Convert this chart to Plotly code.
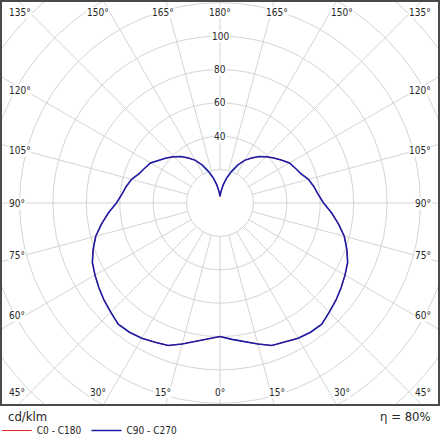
"""Polar luminous-intensity diagram (cd/klm) redrawn on cartesian axes so the
grid can be clipped to the square frame, like the photometric datasheets do."""
import numpy as np
import plotly.graph_objects as go

# gamma angle from nadir, 5 deg steps; one half-plane, the other mirrors it
gamma = list(range(0, 181, 5))
c90_c270 = [80, 82, 84.2, 87.4, 90.8, 92, 93.6, 94.5, 94.8, 92.5, 90.6, 88.5,
            86.4, 84.3, 80.8, 77, 72, 67, 62, 59, 57, 54.8, 51.5, 49.6, 48,
            44.8, 42, 39.2, 36.3, 32.9, 29.5, 25, 20, 15.5, 11, 7, 4]
# C0-C180 coincides with C90-C270 here (it sits hidden under the blue line)
c0_c180 = [80, 82, 84.2, 87.4, 90.8, 92, 93.6, 94.5, 94.8, 92.5, 90.6, 88.5,
           86.4, 84.3, 80.8, 77, 72, 67, 62, 59, 57, 54.8, 51.5, 49.6, 48,
           44.8, 42, 39.2, 36.3, 32.9, 29.5, 25, 20, 15.5, 11, 7, 4]

ring_radii = [20, 40, 60, 80, 100, 120, 140, 160, 180]
ring_labels = [40, 60, 80, 100]
angle_ticks = list(range(0, 181, 15))
efficiency = "η = 80%"
unit = "cd/klm"

FONT = "DejaVu Sans Condensed, DejaVu Sans, sans-serif"
GRID = "#d4d4d4"
TXT = "#262626"
XR, YR = 130.5, 120.4


def to_xy(vals):
    """both half-planes: left side uses negative gamma."""
    g = np.array([-a for a in gamma[::-1]] + gamma[1:], dtype=float)
    r = np.array(vals[::-1] + vals[1:], dtype=float)
    rad = np.radians(g)
    return r * np.sin(rad), -r * np.cos(rad)


fig = go.Figure()
for name, vals, col, w in [("C0 - C180", c0_c180, "#e02424", 1.0),
                           ("C90 - C270", c90_c270, "#1c1ca6", 1.6)]:
    x, y = to_xy(vals)
    fig.add_trace(go.Scatter(x=x, y=y, mode="lines", name=name, hoverinfo="skip",
                             line=dict(color=col, width=w)))

shapes = []
for r in ring_radii:
    shapes.append(dict(type="circle", xref="x", yref="y", x0=-r, x1=r, y0=-r, y1=r,
                       line=dict(color=GRID, width=1), layer="below"))
for a in range(0, 360, 15):
    t = np.radians(a)
    shapes.append(dict(type="line", xref="x", yref="y",
                       x0=20 * np.sin(t), y0=-20 * np.cos(t),
                       x1=220 * np.sin(t), y1=-220 * np.cos(t),
                       line=dict(color=GRID, width=1), layer="below"))

ann = []
for v in ring_labels:
    ann.append(dict(x=0, y=v, text=str(v), showarrow=False, bgcolor="white",
                    borderpad=0, font=dict(size=10, color=TXT, family=FONT)))

for g in angle_ticks:
    for side in ([1] if g in (0, 180) else [-1, 1]):
        if 52 < g < 128:
            x = side * 126.8
            y = 0 if g == 90 else -117 / np.tan(np.radians(g))
            xa = "left" if side < 0 else "right"
        else:
            y = -113.6 if g < 90 else 114.0
            xc = 127 * abs(np.tan(np.radians(g)))
            if xc > 118:
                x, xa = side * 126.8, ("left" if side < 0 else "right")
            else:
                x, xa = side * xc, "center"
        ann.append(dict(x=x, y=y, text=f"{g}°", showarrow=False, xanchor=xa,
                        bgcolor="white", borderpad=0,
                        font=dict(size=10, color=TXT, family=FONT)))

ann.append(dict(xref="paper", yref="paper", x=0, y=-0.032, xanchor="left",
                yanchor="middle", xshift=4, text=unit, showarrow=False,
                font=dict(size=13, color=TXT, family=FONT)))
ann.append(dict(xref="paper", yref="paper", x=1, y=-0.032, xanchor="right",
                yanchor="middle", xshift=-5, text=efficiency, showarrow=False,
                font=dict(size=13, color=TXT, family=FONT)))

fig.update_layout(
    width=440, height=440,
    # legend sits in the bottom strip; don't let it push the frame up
    margin=dict(l=2, r=2, t=2, b=36, autoexpand=False),
    paper_bgcolor="white", plot_bgcolor="white",
    shapes=shapes, annotations=ann,
    showlegend=True,
    legend=dict(orientation="h", x=-0.012, xanchor="left", y=-0.066, yanchor="middle",
                font=dict(size=10, color=TXT, family=FONT), bgcolor="rgba(0,0,0,0)",
                itemwidth=30, tracegroupgap=0),
)
axis = dict(showgrid=False, zeroline=False, showticklabels=False, ticks="",
            showline=True, mirror=True, linecolor="#4a4a4a", linewidth=1.5,
            fixedrange=True)
fig.update_xaxes(range=[-XR, XR], **axis)
fig.update_yaxes(range=[-YR, YR], **axis)

# page body keeps the browser's 8px default margin otherwise
fig.write_html("out.html", config={"displayModeBar": False},
               post_script="document.body.style.margin='0';")
